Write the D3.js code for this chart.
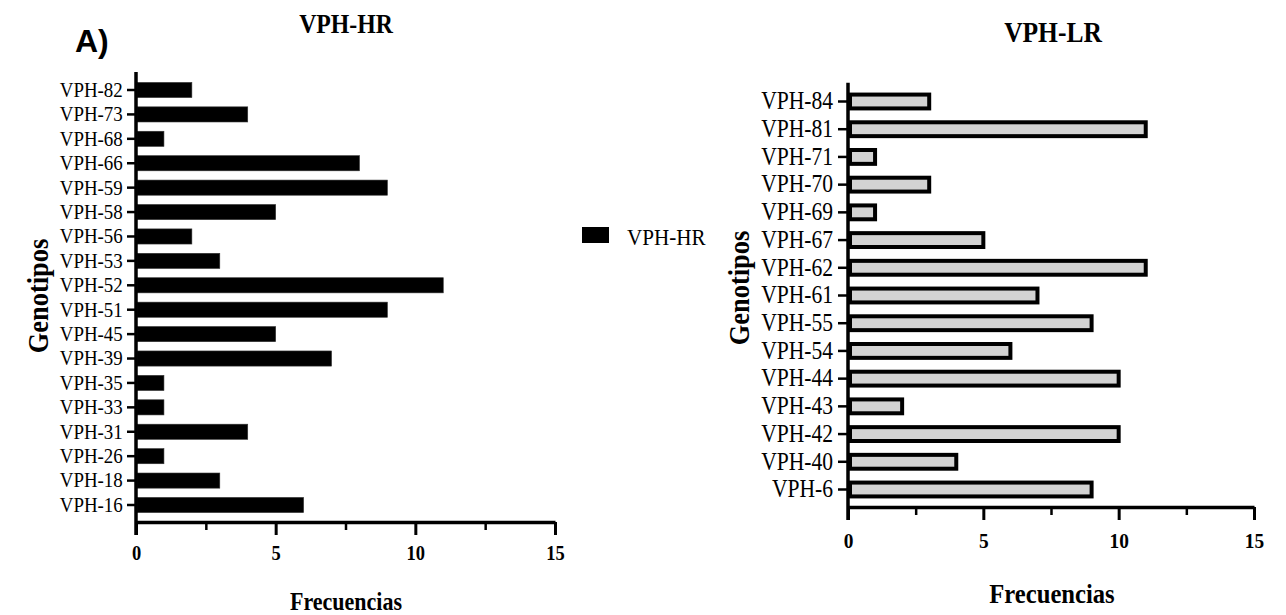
<!DOCTYPE html>
<html>
<head>
<meta charset="utf-8">
<script src="https://cdn.jsdelivr.net/npm/d3@7"></script>
<style>
  html, body { margin: 0; padding: 0; background: #fff; }
  svg { display: block; }
  text { font-family: "Liberation Serif", "Times New Roman", serif; fill: #000; }
</style>
</head>
<body>
<svg id="chart" width="1286" height="615"></svg>
<script>
// ---------- DATA ----------
const hrCategories = ["VPH-82","VPH-73","VPH-68","VPH-66","VPH-59","VPH-58","VPH-56","VPH-53","VPH-52","VPH-51","VPH-45","VPH-39","VPH-35","VPH-33","VPH-31","VPH-26","VPH-18","VPH-16"];
const hrValues     = [2, 4, 1, 8, 9, 5, 2, 3, 11, 9, 5, 7, 1, 1, 4, 1, 3, 6];

const lrCategories = ["VPH-84","VPH-81","VPH-71","VPH-70","VPH-69","VPH-67","VPH-62","VPH-61","VPH-55","VPH-54","VPH-44","VPH-43","VPH-42","VPH-40","VPH-6"];
const lrValues     = [3, 11, 1, 3, 1, 5, 11, 7, 9, 6, 10, 2, 10, 4, 9];

const xMajorTicks = [0, 5, 10, 15];
const xMinorTicks = [2.5, 7.5, 12.5];
const xDomain = [0, 15];

const hrTitle = "VPH-HR";
const lrTitle = "VPH-LR";
const panelLabel = "A)";
const xTitle = "Frecuencias";
const yTitle = "Genotipos";
const legendLabel = "VPH-HR";

// ---------- DRAW ----------
const SX = 0.88; // horizontal compression of the serif text, as in the source image
const svg = d3.select("#chart");

function label(g, x, y, txt, size, bold, rotate) {
  return g.append("text")
    .attr("transform", `translate(${x},${y})${rotate ? " rotate(-90)" : ""} scale(${SX},1)`)
    .attr("text-anchor", "middle")
    .style("font-weight", bold ? "bold" : "normal")
    .style("font-size", size + "px")
    .text(txt);
}

function panel(cfg) {
  const g = svg.append("g");
  const x = d3.scaleLinear().domain(xDomain).range([cfg.x0, cfg.x1]);
  const n = cfg.cats.length;
  const step = (cfg.lastCenter - cfg.firstCenter) / (n - 1);
  const y = d3.scaleBand().domain(cfg.cats)
    .range([cfg.firstCenter - step / 2, cfg.lastCenter + step / 2])
    .paddingInner(cfg.pad).paddingOuter(cfg.pad / 2);

  // bars
  g.append("g").selectAll("rect").data(cfg.vals).join("rect")
    .attr("x", x(0) + cfg.barInset)
    .attr("y", (d, i) => y(cfg.cats[i]))
    .attr("width", d => x(d) - x(0) - cfg.barInset)
    .attr("height", y.bandwidth())
    .attr("fill", cfg.fill)
    .attr("stroke", cfg.stroke)
    .attr("stroke-width", cfg.strokeWidth);

  // y axis
  const ya = g.append("g").attr("transform", `translate(${cfg.x0},0)`)
    .call(d3.axisLeft(y).tickSize(cfg.yTickLen).tickPadding(cfg.yPad).tickSizeOuter(0));
  ya.select(".domain").remove();
  ya.selectAll(".tick line").attr("stroke", "#000").attr("stroke-width", 2.5);
  ya.selectAll(".tick text").style("font-size", cfg.yFont + "px")
    .style("font-family", '"Liberation Serif", serif')
    .attr("transform", `scale(${SX},1)`);
  g.append("line").attr("x1", cfg.x0).attr("x2", cfg.x0)
    .attr("y1", cfg.yTop).attr("y2", cfg.yBottom + 13)
    .attr("stroke", "#000").attr("stroke-width", 3.5);

  // x axis (major)
  const xa = g.append("g").attr("transform", `translate(0,${cfg.yBottom})`)
    .call(d3.axisBottom(x).tickValues(xMajorTicks).tickFormat(d3.format("d"))
      .tickSize(13).tickPadding(cfg.xLabelPad).tickSizeOuter(0));
  xa.select(".domain").attr("stroke", "#000").attr("stroke-width", 3.5);
  xa.selectAll(".tick line").attr("stroke", "#000").attr("stroke-width", 3);
  xa.selectAll(".tick text").style("font-size", cfg.xFont + "px")
    .style("font-weight", "bold").style("font-family", '"Liberation Serif", serif')
    .attr("transform", `scale(${SX},1)`);
  // x axis (minor)
  const xm = g.append("g").attr("transform", `translate(0,${cfg.yBottom})`)
    .call(d3.axisBottom(x).tickValues(xMinorTicks).tickFormat("").tickSize(8).tickSizeOuter(0));
  xm.select(".domain").remove();
  xm.selectAll(".tick line").attr("stroke", "#000").attr("stroke-width", 2.5);

  // titles
  label(g, cfg.titleX, cfg.titleY, cfg.title, cfg.titleFont, true, false);
  label(g, cfg.xTitleX, cfg.xTitleY, xTitle, cfg.xTitleFont, true, false);
  label(g, cfg.yTitleX, cfg.yTitleY, yTitle, cfg.yTitleFont, true, true);
  return g;
}

panel({
  cats: hrCategories, vals: hrValues,
  x0: 136, x1: 555, yTop: 72, yBottom: 522,
  firstCenter: 90, lastCenter: 505, pad: 0.38,
  fill: "#000", stroke: "#333", strokeWidth: 0.6, barInset: 1,
  yTickLen: 9, yPad: 6, yFont: 21.5, xFont: 21, xLabelPad: 10,
  title: hrTitle, titleX: 346, titleY: 33, titleFont: 27,
  xTitleX: 346, xTitleY: 610, xTitleFont: 25,
  yTitleX: 48, yTitleY: 296, yTitleFont: 30
});

panel({
  cats: lrCategories, vals: lrValues,
  x0: 848, x1: 1254, yTop: 82.7, yBottom: 507,
  firstCenter: 101.5, lastCenter: 489.5, pad: 0.5,
  fill: "#d3d3d3", stroke: "#000", strokeWidth: 4, barInset: 2,
  yTickLen: 10, yPad: 7, yFont: 24.5, xFont: 22, xLabelPad: 12,
  title: lrTitle, titleX: 1053, titleY: 42, titleFont: 29,
  xTitleX: 1052, xTitleY: 603, xTitleFont: 28,
  yTitleX: 749, yTitleY: 288, yTitleFont: 30
});

// panel label
svg.append("text").attr("x", 75).attr("y", 52)
  .style("font-family", '"Liberation Sans", Arial, sans-serif')
  .style("font-weight", "bold").style("font-size", "32px").text(panelLabel);

// legend
const legend = svg.append("g");
const legendColor = d3.scaleOrdinal().domain([legendLabel]).range(["#000"]);
legend.selectAll("rect").data(legendColor.domain()).join("rect")
  .attr("x", 582).attr("y", 227).attr("width", 27).attr("height", 16)
  .attr("fill", d => legendColor(d));
legend.selectAll("text").data(legendColor.domain()).join("text")
  .attr("transform", `translate(627,245) scale(${SX},1)`)
  .style("font-size", "24px").text(d => d);
</script>
</body>
</html>
